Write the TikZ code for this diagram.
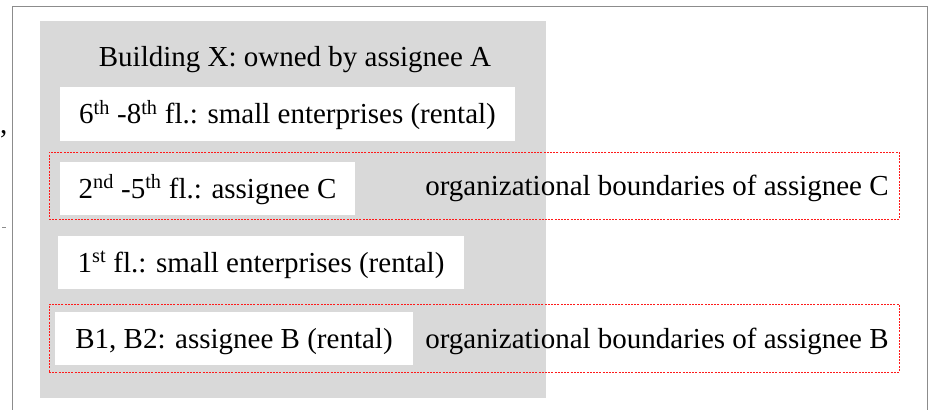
\documentclass[tikz,border=0pt]{standalone}
\usepackage{fontspec}
\setmainfont{Liberation Serif}
\definecolor{bldggray}{HTML}{D9D9D9}
\definecolor{framegray}{HTML}{8C8C8C}
\definecolor{orgred}{HTML}{FF1A1A}
\tikzset{
  txt/.style={font=\fontsize{29}{34}\selectfont, inner sep=0pt, text height=19pt, text depth=0pt},
  floorbox/.style={txt, fill=white, draw=none, rectangle},
  orgbox/.style={draw=orgred, line width=1pt, dash pattern=on 2pt off 1.2pt, rectangle, inner sep=0pt},
  frameline/.style={draw=framegray, line width=1.2pt}
}
\begin{document}
\begin{tikzpicture}[x=1pt, y=-1pt]
\useasboundingbox (0,0) rectangle (930,410);
% outer frame (page crop)
\coordinate (fbl) at (12.5,410);
\coordinate (ftl) at (12.5,6.5);
\coordinate (ftr) at (927.5,6.5);
\coordinate (fbr) at (927.5,410);
\draw[frameline] (fbl) -- (ftl) -- (ftr) -- (fbr);
% stray marks at left
\node[font=\fontsize{29}{34}\selectfont, inner sep=0pt, anchor=base west] (comma) at (0,133) {,};
\coordinate (dashA) at (2,227);
\coordinate (dashB) at (6,227);
\draw[framegray, line width=0.8pt] (dashA) -- (dashB);
% building
\node[fill=bldggray, rectangle, inner sep=0pt, minimum width=506, minimum height=377] (bldg) at (293,209.5) {};
\node[txt] (title) at (295,57) {Building X: owned by assignee A};
% organisational boundaries
\node[orgbox, minimum width=850, minimum height=67] (orgC) at (474,185.5) {};
\node[orgbox, minimum width=850, minimum height=68] (orgB) at (474,338) {};
% floors
\node[floorbox, minimum width=455, minimum height=54] (f68) at (287.5,114) {6\textsuperscript{th} -8\textsuperscript{th} fl.: small enterprises (rental)};
\node[floorbox, minimum width=295, minimum height=53] (f25) at (207.5,188.5) {2\textsuperscript{nd} -5\textsuperscript{th} fl.: assignee C};
\node[floorbox, minimum width=406, minimum height=53] (f1) at (261,262.5) {1\textsuperscript{st} fl.: small enterprises (rental)};
\node[floorbox, minimum width=358, minimum height=53] (fB) at (234,338.5) {B1, B2: assignee B (rental)};
% labels
\node[txt] (labC) at (657,186) {organizational boundaries of assignee C};
\node[txt] (labB) at (657,338.5) {organizational boundaries of assignee B};
\end{tikzpicture}
\end{document}
